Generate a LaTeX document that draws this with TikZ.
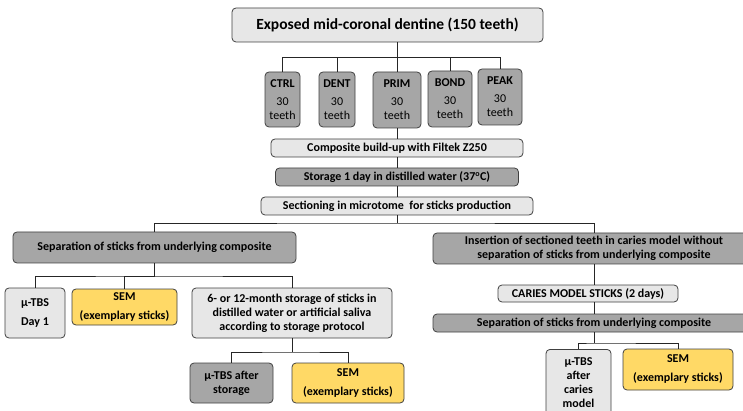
\documentclass[tikz,border=0pt]{standalone}
\usepackage{fontspec}
\setmainfont{Carlito}
\definecolor{boxlight}{HTML}{E7E7E7}
\definecolor{boxdark}{HTML}{A6A6A6}
\definecolor{boxgold}{HTML}{FFD966}
\definecolor{boxline}{HTML}{404040}
\begin{document}
\begin{tikzpicture}[x=1pt,y=-1pt,
    box/.style={draw=boxline,line width=0.8pt,rounded corners=4pt,align=center,inner sep=0pt,
      font=\fontsize{12}{14}\selectfont\bfseries},
    light/.style={box,fill=boxlight},
    dark/.style={box,fill=boxdark},
    gold/.style={box,fill=boxgold},
    link/.style={draw=black!85,line width=0.7pt}]
   \useasboundingbox (0,0) rectangle (743,411);
   \clip (0,0) rectangle (743,411);
   \node[light,minimum width=311pt,minimum height=34pt] (title) at (387.5,25) {\fontsize{15.5}{18}\selectfont Exposed mid-coronal dentine (150 teeth)};
   \node[dark,minimum width=35pt,minimum height=55pt] (ctrl) at (282.5,99.5) {CTRL\\[4pt]{\mdseries 30}\\{\mdseries teeth}};
   \node[dark,minimum width=36pt,minimum height=55pt] (dent) at (337,99.5) {DENT\\[4pt]{\mdseries 30}\\{\mdseries teeth}};
   \node[dark,minimum width=48pt,minimum height=56pt] (prim) at (397,100) {PRIM\\[4pt]{\mdseries 30}\\{\mdseries teeth}};
   \node[dark,minimum width=44pt,minimum height=56pt] (bond) at (450,99) {BOND\\[4pt]{\mdseries 30}\\{\mdseries teeth}};
   \node[dark,minimum width=44pt,minimum height=56pt] (peak) at (500,97) {PEAK\\[4pt]{\mdseries 30}\\{\mdseries teeth}};
   \node[light,minimum width=252pt,minimum height=18pt] (build) at (397,148) {Composite build-up with Filtek Z250};
   \node[dark,minimum width=243pt,minimum height=18pt] (water) at (397,177) {Storage 1 day in distilled water (37\textsuperscript{o}C)};
   \node[light,minimum width=272pt,minimum height=18pt] (cut) at (397,206) {Sectioning in microtome\ \ for sticks production};
   \node[dark,minimum width=283pt,minimum height=31pt] (sepL) at (154.5,247.5) {Separation of sticks from underlying composite};
   \node[dark,minimum width=322pt,minimum height=31pt] (insert) at (594,248.5) {Insertion of sectioned teeth in caries model without\\separation of sticks from underlying composite};
   \node[light,minimum width=60pt,minimum height=50pt] (tbsA) at (35,313) {µ-TBS\\[5pt]Day 1};
   \node[gold,minimum width=105pt,minimum height=36pt] (semA) at (124.5,307) {SEM\\[5pt](exemplary sticks)};
   \node[light,minimum width=200pt,minimum height=50pt] (keep) at (292,313) {6- or 12-month storage of sticks in\\distilled water or artificial saliva\\according to storage protocol};
   \node[dark,minimum width=83pt,minimum height=40pt] (tbsB) at (231.5,383) {µ-TBS after\\storage};
   \node[gold,minimum width=112pt,minimum height=40pt] (semB) at (348,383) {SEM\\[5pt](exemplary sticks)};
   \node[light,minimum width=180pt,minimum height=17pt] (caries) at (588,293.5) {CARIES MODEL STICKS (2 days)};
   \node[dark,minimum width=322pt,minimum height=18pt] (sepR) at (594,323) {Separation of sticks from underlying composite};
   \node[light,minimum width=65pt,minimum height=67pt,anchor=north] (tbsC) at (578.5,349) {µ-TBS\\after\\caries\\model};
   \node[gold,minimum width=110pt,minimum height=41pt] (semC) at (678,369.5) {SEM\\[5pt](exemplary sticks)};
   \coordinate (busA) at (397,57);
   \coordinate (busB) at (397,223);
   \coordinate (busC) at (154.5,276);
   \coordinate (busD) at (292,352);
   \coordinate (busE) at (594,343);
   \draw[link] (title.south -| busA) -- (busA);
   \draw[link] (ctrl.north) |- (busA) -| (peak.north);
   \draw[link] (dent.north) |- (busA);
   \draw[link] (prim.north) -- (busA);
   \draw[link] (bond.north) |- (busA);
   \draw[link] (prim.south) -- (build.north);
   \draw[link] (build.south) -- (water.north);
   \draw[link] (water.south) -- (cut.north);
   \draw[link] (cut.south) -- (busB);
   \draw[link] (sepL.north) |- (busB) -| (insert.north);
   \draw[link] (sepL.south) -- (busC);
   \draw[link] (tbsA.north) |- (busC) -| (keep.north);
   \draw[link] (semA.north) |- (busC);
   \draw[link] (keep.south) -- (busD);
   \draw[link] (tbsB.north) |- (busD) -| (semB.north);
   \draw[link] (insert.south) -- (insert.south |- caries.north);
   \draw[link] (insert.south |- caries.south) -- (insert.south |- sepR.north);
   \draw[link] (sepR.south) -- (busE);
   \draw[link] (tbsC.north) |- (busE) -| (semC.north);
\end{tikzpicture}
\end{document}
